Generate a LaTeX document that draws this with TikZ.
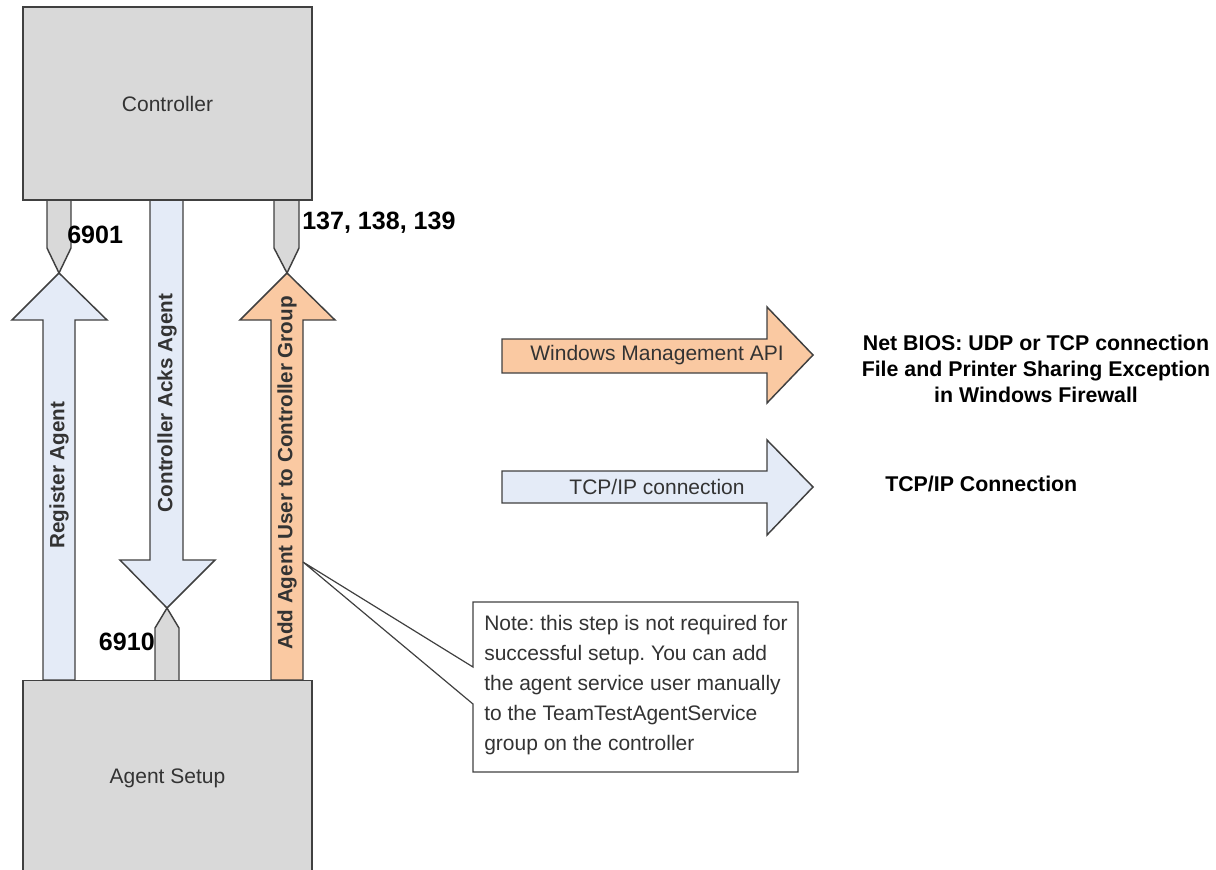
\documentclass[tikz,border=0pt]{standalone}
\usepackage{fontspec}
\setmainfont{Liberation Sans}
\usepackage{tikz}
\usetikzlibrary{calc}
\definecolor{agbox}{HTML}{D9D9D9}
\definecolor{agblue}{HTML}{E4EBF7}
\definecolor{agpeach}{HTML}{FAC9A2}
\definecolor{agline}{HTML}{404040}
\definecolor{agtext}{HTML}{333333}

\begin{document}
\frenchspacing
\begin{tikzpicture}[x=0.75pt, y=-0.75pt,
  hostbox/.style={draw=agline, fill=agbox, line width=1.1pt, minimum width=216.75pt,
    font=\fontsize{15.75}{18}\selectfont, text=agtext},
  blockarrow/.style={draw=agline, line width=1.1pt, line join=miter},
  arrowtext/.style={font=\fontsize{15.75}{18}\selectfont, text=agtext, inner sep=0pt},
  steptext/.style={font=\bfseries\fontsize{15.5}{18}\selectfont, text=agtext, inner sep=0pt, rotate=90},
  portlabel/.style={font=\bfseries\fontsize{18.8}{21}\selectfont, inner sep=0pt},
  sidelabel/.style={font=\bfseries\fontsize{16}{19.5}\selectfont, align=center, inner sep=0pt}]
  \useasboundingbox (0,0) rectangle (1216,869);
  % vertical block arrows
  \draw[blockarrow, fill=agblue] (43,680) -- (43,320) -- (12,320) -- (59,273) -- (107,320) -- (75,320) -- (75,680) -- cycle;
  \draw[blockarrow, fill=agblue] (150,200) -- (150,560) -- (120,560) -- (167,608) -- (215,560) -- (183,560) -- (183,200) -- cycle;
  \draw[blockarrow, fill=agpeach] (271,680) -- (271,320) -- (240,320) -- (287,273) -- (335,320) -- (303,320) -- (303,680) -- cycle;
  \node[steptext] (register) at (59,475) {Register Agent};
  \node[steptext] (acks) at (167,403) {Controller Acks Agent};
  \node[steptext] (adduser) at (287,473) {Add Agent User to Controller Group};
  % port plugs
  \draw[blockarrow, fill=agbox] (47,200) -- (47,248) -- (59,273) -- (71,248) -- (71,200);
  \draw[blockarrow, fill=agbox] (274,200) -- (274,248) -- (287,273) -- (299,248) -- (299,200);
  \draw[blockarrow, fill=agbox] (155,681) -- (155,628) -- (167,608) -- (179,628) -- (179,681);
  \node[portlabel, anchor=west] (p6901) at (67,235) {6901};
  \node[portlabel, anchor=west] (p137) at (302,223) {137, 138, 139};
  \node[portlabel, anchor=east] (p6910) at (155,642) {6910};
  % hosts
  \node[hostbox, minimum height=144.75pt] (controller) at (167.5,103.5) {Controller};
  \node[hostbox, minimum height=146pt] (agent) at (167.5,778) {Agent Setup};
  % legend
  \draw[blockarrow, fill=agpeach] (502,339) -- (767,339) -- (767,307) -- (813,355) -- (767,403) -- (767,373) -- (502,373) -- cycle;
  \draw[blockarrow, fill=agblue] (502,471) -- (767,471) -- (767,440) -- (813,487) -- (767,535) -- (767,503) -- (502,503) -- cycle;
  \node[arrowtext] (wmi) at (657,355) {Windows Management API};
  \node[arrowtext] (tcp) at (657,487) {TCP/IP connection};
  \node[sidelabel] (netbios) at (1036,369) {Net BIOS: UDP or TCP connection\\File and Printer Sharing Exception\\in Windows Firewall};
  \node[sidelabel, anchor=west] (tcpconn) at (885,484) {TCP/IP Connection};
  % note callout
  \node[anchor=north west, align=left, inner sep=0pt,
    font=\fontsize{15.75}{22.5}\selectfont, text=agtext] (note) at (484,615)
    {Note: this step is not required for\\successful setup. You can add\\the agent service user manually\\to the TeamTestAgentService\\group on the controller};
  \coordinate (pin) at (303,562);
  \draw[line width=0.9pt, draw=agline] (473,602) -- (798,602) -- (798,772) -- (473,772) -- (473,704) -- (pin) -- (473,667) -- cycle;
\end{tikzpicture}
\end{document}
